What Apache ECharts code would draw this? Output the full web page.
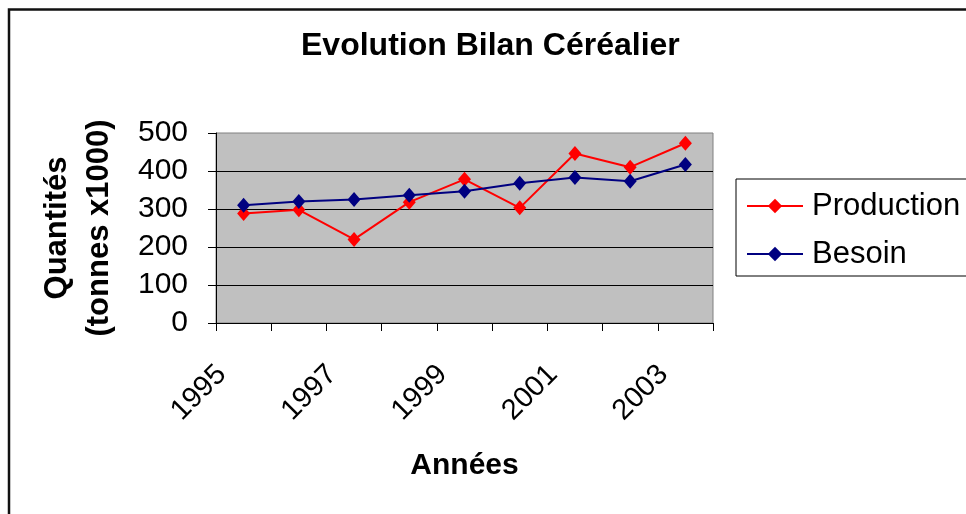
<!DOCTYPE html>
<html>
<head>
<meta charset="utf-8">
<script src="https://cdn.jsdelivr.net/npm/echarts@6/dist/echarts.min.js"></script>
<style>
html,body{margin:0;padding:0;background:#fff;}
#chart{width:966px;height:514px;}
</style>
</head>
<body>
<div id="chart"></div>
<script>
var years = ['1995','1996','1997','1998','1999','2000','2001','2002','2003'];
var production = [288, 298, 220, 318, 378, 303, 446, 410, 473];
var besoin = [310, 320, 325, 336, 347, 368, 383, 373, 417];
var yTicks = {min: 0, max: 500, interval: 100};

var FONT = "'Liberation Sans', Arial, sans-serif";
var chart = echarts.init(document.getElementById('chart'), null, {renderer: 'canvas'});
chart.setOption({
  animation: false,
  backgroundColor: '#fff',
  title: {
    text: 'Evolution Bilan Céréalier',
    left: 301, top: 30, padding: 0,
    textStyle: {fontFamily: FONT, fontSize: 32, fontWeight: 'bold', color: '#000'}
  },
  graphic: [{
    type: 'rect', silent: true,
    shape: {x: 9, y: 9.5, width: 1100, height: 700},
    style: {fill: 'none', stroke: '#111', lineWidth: 2.5}
  }],
  legend: {
    left: 736, top: 179,
    orient: 'vertical',
    padding: [10, 40, 5, 10],
    itemGap: 14,
    itemWidth: 56, itemHeight: 18,
    borderColor: '#000', borderWidth: 1,
    backgroundColor: '#fff',
    textStyle: {fontFamily: FONT, fontSize: 31, color: '#000', lineHeight: 34, padding: [0,0,0,4]},
    data: ['Production', 'Besoin']
  },
  grid: {
    left: 216, right: 253, top: 133, bottom: 191,
    show: true, backgroundColor: '#C0C0C0', borderColor: '#808080', borderWidth: 1,
    containLabel: false
  },
  xAxis: {
    type: 'category',
    data: years,
    boundaryGap: true,
    name: 'Années',
    nameLocation: 'middle',
    nameGap: 128,
    nameTextStyle: {fontFamily: FONT, fontSize: 30, fontWeight: 'bold', color: '#000'},
    axisLine: {lineStyle: {color: '#000', width: 1}},
    axisTick: {show: true, interval: 0, length: 8, lineStyle: {color: '#000'}},
    axisLabel: {
      interval: 1, rotate: 45, margin: 25,
      fontFamily: FONT, fontSize: 29, color: '#000',
      padding: [0, 31, 0, 0]
    },
    splitLine: {show: false}
  },
  yAxis: {
    type: 'value',
    min: yTicks.min, max: yTicks.max, interval: yTicks.interval,
    name: 'Quantités\n(tonnes x1000)',
    nameLocation: 'middle',
    nameRotate: 90,
    nameGap: 96,
    nameTextStyle: {fontFamily: FONT, fontSize: 31, fontWeight: 'bold', color: '#000', lineHeight: 42},
    axisLine: {show: true, lineStyle: {color: '#000', width: 1}},
    axisTick: {show: true, length: 8, lineStyle: {color: '#000'}},
    axisLabel: {margin: 28, fontFamily: FONT, fontSize: 30, color: '#000'},
    splitLine: {show: true, showMaxLine: false, showMinLine: false, lineStyle: {color: '#000', width: 1}}
  },
  series: [
    {
      name: 'Production', type: 'line', data: production,
      symbol: 'diamond', symbolSize: [13, 15],
      lineStyle: {color: '#FF0000', width: 2},
      itemStyle: {color: '#FF0000'}
    },
    {
      name: 'Besoin', type: 'line', data: besoin,
      symbol: 'diamond', symbolSize: [13, 15],
      lineStyle: {color: '#000080', width: 2},
      itemStyle: {color: '#000080'}
    }
  ]
});
</script>
</body>
</html>
